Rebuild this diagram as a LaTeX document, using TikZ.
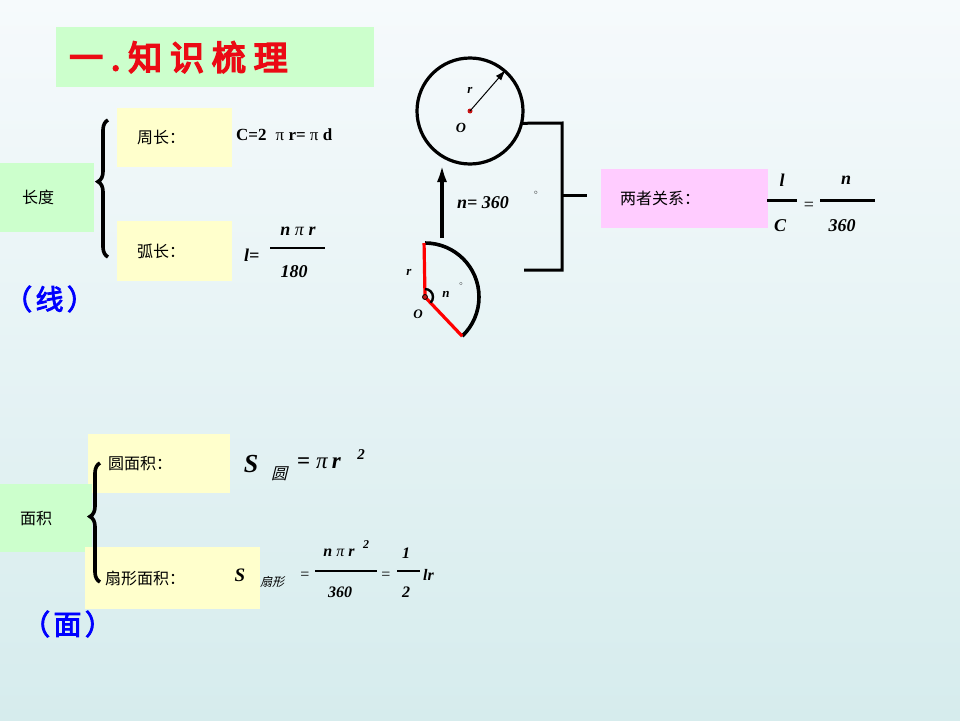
\documentclass[tikz,border=0pt]{standalone}
\usepackage{fontspec}
\setmainfont{Liberation Serif}
\newfontfamily\cjk{Noto Sans CJK SC}
\newfontfamily\cjkslant{Noto Sans CJK SC}[FakeSlant=0.25]
\newfontfamily\titlefont{Noto Sans CJK SC}[FakeBold=5,LetterSpace=23]
\newfontfamily\capfont{Noto Sans CJK SC}[FakeBold=3,LetterSpace=12]
\usetikzlibrary{positioning,calc,arrows.meta,decorations.pathreplacing}
\definecolor{boxgreen}{HTML}{CCFFCC}
\definecolor{boxyellow}{HTML}{FFFFCC}
\definecolor{boxpink}{HTML}{FFCCFF}
\definecolor{bgtop}{RGB}{246,250,252}
\definecolor{bgbot}{RGB}{214,236,237}
\definecolor{dotred}{RGB}{200,20,20}
\definecolor{titlered}{RGB}{235,10,20}
\tikzset{
  tbox/.style={rectangle, anchor=north west, inner xsep=20pt, inner ysep=0pt, align=left, font=\cjk\fontsize{16}{18}\selectfont},
  fml/.style={inner sep=0pt, font=\fontsize{18}{20}\selectfont\bfseries\itshape},
  sml/.style={inner sep=0pt, font=\fontsize{13}{15}\selectfont\bfseries\itshape},
  thickline/.style={line width=3pt},
  bracestyle/.style={line width=3.6pt, decorate, decoration={brace, amplitude=10pt, aspect=0.55}}
}
\begin{document}
\begin{tikzpicture}[x=1pt, y=-1pt]
    \shade[top color=bgtop, bottom color=bgbot] (0,0) rectangle (960,720);
    \useasboundingbox (0,0) rectangle (960,720);

    % title
    \node[tbox, fill=boxgreen, inner xsep=13pt, text width=292pt, minimum height=60pt, text=titlered, font=\titlefont\fontsize{34}{36}\selectfont] (title) at (56,27) {一.知识梳理};

    % length
    \node[tbox, fill=boxyellow, text width=75pt, minimum height=59pt] (zc) at (117,108) {周长：};
    \node[tbox, fill=boxgreen, inner xsep=22pt, text width=50pt, minimum height=69pt] (cd) at (0,163) {长度};
    \node[tbox, fill=boxyellow, text width=75pt, minimum height=60pt] (hc) at (117,221) {弧长：};
    \coordinate (b1top) at (108,120);
    \coordinate (b1bot) at (108,257);
    \draw[bracestyle] (b1bot) -- (b1top);
    \node[anchor=west, inner sep=0pt, font=\fontsize{17}{20}\selectfont] (czc) at (236,135) {\textbf{C=2}\hspace{9pt}π \textbf{r=} π \textbf{d}};
    \node[fml, anchor=west] (leq) at (244,255) {l=};
    \node[fml] (hcnum) at (298,231) {n \textnormal{\itshape π} r};
    \coordinate (hcl) at (270,248);
    \coordinate (hcr) at (325,248);
    \draw[line width=2.6pt] (hcl) -- (hcr);
    \node[fml] (hcden) at (294,272) {180};
    \node[anchor=west, inner sep=0pt, text=blue, font=\capfont\fontsize{28}{30}\selectfont] (xian) at (4,299) {（线）};

    % circle and sector
    \node[circle, draw, line width=3.2pt, minimum size=106pt, inner sep=0pt] (circ) at (470,111) {};
    \fill[dotred] (circ.center) circle (2.5);
    \draw[line width=1pt, -{Latex[length=11pt,width=7pt]}] (circ.center) -- (circ.49);
    \node[sml] (cr) at (470,90) {r};
    \node[sml, font=\fontsize{14}{16}\selectfont\bfseries\itshape] (co) at (461,128) {O};
    \coordinate (ar0) at (442,238);
    \coordinate (ar1) at (442,164);
    \draw[line width=4pt, -{Latex[length=18pt,width=10pt]}] (ar0) -- (ar1);
    \node[fml, anchor=west] (n360) at (457,203) {n= 360};
    \node[inner sep=0pt, font=\fontsize{7}{8}\selectfont] (deg1) at (536,193) {$\circ$};
    \coordinate (brtop) at (562,123);
    \coordinate (brbot) at (562,270);
    \coordinate (brend) at (524,270);
    \coordinate (brmid) at (562,195);
    \coordinate (brout) at (587,195);
    \draw[thickline] (circ.-13) -- (brtop) -- (brbot) -- (brend);
    \draw[thickline] (brmid) -- (brout);

    \coordinate (O2) at (425,297);
    \draw[line width=3.6pt] ($(O2)+(-90:54)$) arc[start angle=-90, end angle=46.5, radius=54];
    \draw[red, line width=3.2pt] (O2) -- ++(-91:54);
    \draw[red, line width=3.2pt] (O2) -- ++(46.5:54);
    \draw[line width=2.4pt] ($(O2)+(-90:8)$) arc[start angle=-90, end angle=46.5, radius=8];
    \filldraw[fill=dotred, draw=black, line width=0.8pt] (O2) circle (2.5);
    \node[sml] (sr) at (409,272) {r};
    \node[sml] (sn) at (446,294) {n};
    \node[inner sep=0pt, font=\fontsize{6}{7}\selectfont] (deg2) at (461,284) {$\circ$};
    \node[sml] (so) at (418,314) {O};

    % relation
    \node[tbox, fill=boxpink, inner xsep=19pt, text width=129pt, minimum height=59pt] (gx) at (601,169) {两者关系：};
    \node[fml] (gl) at (782,180) {l};
    \coordinate (gll) at (767,200);
    \coordinate (glr) at (797,200);
    \draw[line width=3pt] (gll) -- (glr);
    \node[fml] (gc) at (780,226) {C};
    \node[inner sep=0pt, font=\fontsize{18}{20}\selectfont] (geq) at (809,206) {=};
    \node[fml] (gn) at (846,180) {n};
    \coordinate (gnl) at (820,200);
    \coordinate (gnr) at (875,200);
    \draw[line width=3pt] (gnl) -- (gnr);
    \node[fml] (g360) at (842,226) {360};

    % area
    \node[tbox, fill=boxyellow, text width=102pt, minimum height=59pt] (ymj) at (88,434) {圆面积：};
    \node[tbox, fill=boxgreen, text width=52pt, minimum height=68pt] (mj) at (0,484) {面积};
    \node[tbox, fill=boxyellow, text width=135pt, minimum height=62pt] (smj) at (85,547) {扇形面积：};
    \coordinate (b2top) at (100,463);
    \coordinate (b2bot) at (100,582);
    \draw[bracestyle] (b2bot) -- (b2top);
    \node[inner sep=0pt, font=\fontsize{26}{28}\selectfont\bfseries\itshape] (ys) at (251,464) {S};
    \node[inner sep=0pt, font=\cjkslant\fontsize{16}{18}\selectfont] (ysub) at (279,474) {圆};
    \node[anchor=west, inner sep=0pt, font=\fontsize{23}{25}\selectfont\bfseries] (yeq) at (297,463) {= \textnormal{\itshape π}\,\textit{r}};
    \node[sml, font=\fontsize{15}{17}\selectfont\bfseries\itshape] (ysq) at (361,455) {2};
    \node[inner sep=0pt, font=\fontsize{19}{21}\selectfont\bfseries\itshape] (ss) at (240,575) {S};
    \node[inner sep=0pt, font=\cjkslant\fontsize{12}{14}\selectfont] (ssub) at (272,582) {扇形};
    \node[inner sep=0pt, font=\fontsize{16}{18}\selectfont] (seq1) at (305,576) {=};
    \node[sml, font=\fontsize{16}{18}\selectfont\bfseries\itshape] (snum) at (339,553) {n \textnormal{\itshape π} r};
    \node[sml, font=\fontsize{12}{14}\selectfont\bfseries\itshape] (ssq) at (366,545) {2};
    \coordinate (sfl) at (315,571);
    \coordinate (sfr) at (377,571);
    \draw[line width=2.6pt] (sfl) -- (sfr);
    \node[sml, font=\fontsize{16}{18}\selectfont\bfseries\itshape] (sden) at (340,592) {360};
    \node[inner sep=0pt, font=\fontsize{16}{18}\selectfont] (seq2) at (386,576) {=};
    \node[sml, font=\fontsize{16}{18}\selectfont\bfseries\itshape] (sone) at (406,553) {1};
    \coordinate (shl) at (397,571);
    \coordinate (shr) at (420,571);
    \draw[line width=2.6pt] (shl) -- (shr);
    \node[sml, font=\fontsize{16}{18}\selectfont\bfseries\itshape] (stwo) at (406,592) {2};
    \node[sml, font=\fontsize{16}{18}\selectfont\bfseries\itshape, anchor=west] (slr) at (423,575) {lr};
    \node[anchor=west, inner sep=0pt, text=blue, font=\capfont\fontsize{28}{30}\selectfont] (mian) at (22,624) {（面）};
\end{tikzpicture}
\end{document}
